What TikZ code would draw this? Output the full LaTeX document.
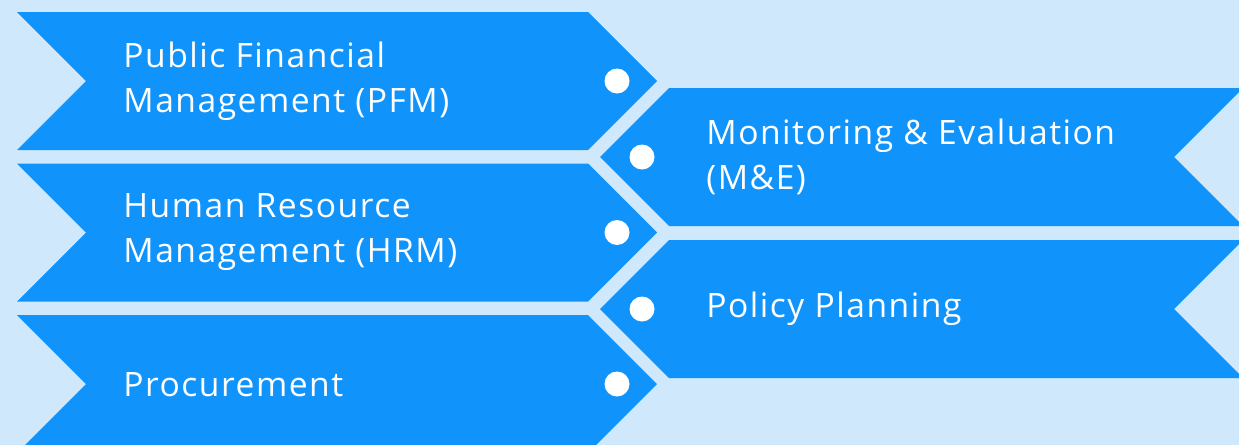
\documentclass[tikz,border=0pt]{standalone}
\usepackage{fontspec}
\setmainfont{Open Sans}[LetterSpace=4.5]
\usetikzlibrary{calc, positioning}
\definecolor{bandblue}{RGB}{16,148,252}
\definecolor{bandback}{RGB}{207,232,252}
\tikzset{
    bandlabel/.style={anchor=west, text=white, align=left, inner sep=0pt, font=\fontsize{16.8}{22.5}\selectfont},
    banddot/.style={circle, fill=white, minimum size=12.5pt, inner sep=0pt}
}
\begin{document}
\begin{tikzpicture}[x=0.5pt, y=-0.5pt]
    \fill[bandback] (0,0) rectangle (1239,445);
    \useasboundingbox (0,0) rectangle (1239,445);
    % left column: notched tail, pointed head
    \foreach \t in {12,163.5,315} {
        \fill[bandblue] (17,\t) -- (588,\t) -- (657,\t+69) -- (588,\t+138) -- (17,\t+138) -- (86,\t+69) -- cycle;
    }
    % right column: point on the left, notch on the right
    \foreach \t in {88,240} {
        \fill[bandblue] (669,\t) -- (1243,\t) -- (1174,\t+69) -- (1243,\t+138) -- (669,\t+138) -- (600,\t+69) -- cycle;
    }
    \foreach \m/\n in {81/a,232.5/b,384/c} {
        \node[banddot] (dotl\n) at (617,\m) {};
    }
    \foreach \m/\n in {157/a,309/b} {
        \node[banddot] (dotr\n) at (642,\m) {};
    }
    \node[bandlabel] (pfm) at (123,81) {Public Financial\\Management (PFM)};
    \node[bandlabel] (hrm) at (123,232) {Human Resource\\Management (HRM)};
    \node[bandlabel] (proc) at (123,385) {Procurement};
    \node[bandlabel] (me) at (706,157) {Monitoring \& Evaluation\\(M\&E)};
    \node[bandlabel] (policy) at (706,309) {Policy Planning};
\end{tikzpicture}
\end{document}
